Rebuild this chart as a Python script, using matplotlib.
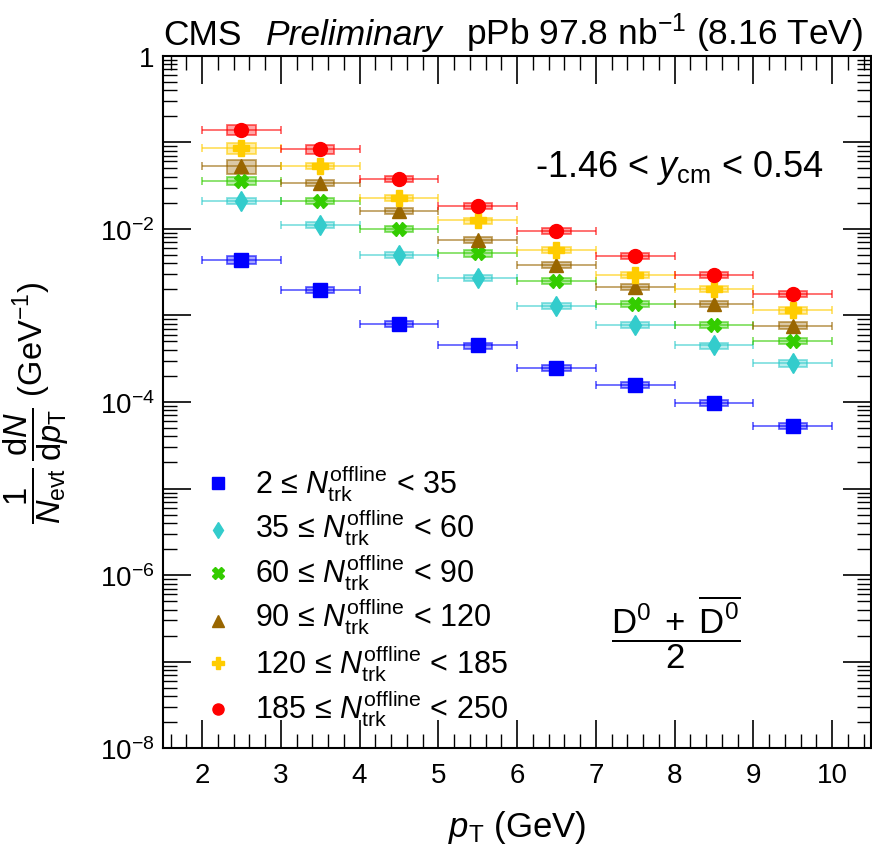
"""
plot.py
D0 pT spectra in pPb for multiplicity classes (CMS style).
"""

import matplotlib
matplotlib.use("Agg")
import matplotlib.pyplot as plt
from matplotlib.patches import Rectangle
from matplotlib.ticker import LogLocator, NullFormatter, FixedLocator, MultipleLocator

plt.rcParams["font.family"] = ["Liberation Sans", "DejaVu Sans"]
plt.rcParams["mathtext.fontset"] = "custom"
plt.rcParams["mathtext.rm"] = "Liberation Sans"
plt.rcParams["mathtext.it"] = "Liberation Sans:italic"
plt.rcParams["mathtext.bf"] = "Liberation Sans:bold"

# bin centres and half widths
pt = [2.5, 3.5, 4.5, 5.5, 6.5, 7.5, 8.5, 9.5]
pt_halfwidth = 0.5

labels = [
    r"2 ≤ $N_{\rm trk}^{\rm offline}$ < 35",
    r"35 ≤ $N_{\rm trk}^{\rm offline}$ < 60",
    r"60 ≤ $N_{\rm trk}^{\rm offline}$ < 90",
    r"90 ≤ $N_{\rm trk}^{\rm offline}$ < 120",
    r"120 ≤ $N_{\rm trk}^{\rm offline}$ < 185",
    r"185 ≤ $N_{\rm trk}^{\rm offline}$ < 250",
]

yield_2_35 = [4.4e-3, 1.97e-3, 8.0e-4, 4.5e-4, 2.5e-4, 1.58e-4, 9.8e-5, 5.3e-5]
yield_35_60 = [2.1e-2, 1.12e-2, 5.0e-3, 2.7e-3, 1.3e-3, 7.7e-4, 4.5e-4, 2.8e-4]
yield_60_90 = [3.6e-2, 2.1e-2, 1.0e-2, 5.2e-3, 2.5e-3, 1.35e-3, 7.8e-4, 5.1e-4]
yield_90_120 = [5.3e-2, 3.4e-2, 1.6e-2, 7.5e-3, 3.8e-3, 2.15e-3, 1.35e-3, 7.6e-4]
yield_120_185 = [8.6e-2, 5.3e-2, 2.3e-2, 1.25e-2, 5.7e-3, 2.95e-3, 2.0e-3, 1.15e-3]
yield_185_250 = [0.14, 8.3e-2, 3.8e-2, 1.85e-2, 9.5e-3, 4.9e-3, 2.95e-3, 1.78e-3]

# relative systematic uncertainty (box half height)
syst_2_35 = [0.11, 0.09, 0.09, 0.08, 0.08, 0.08, 0.08, 0.08]
syst_35_60 = [0.08, 0.08, 0.08, 0.08, 0.08, 0.08, 0.08, 0.09]
syst_60_90 = [0.11, 0.08, 0.08, 0.09, 0.08, 0.08, 0.08, 0.08]
syst_90_120 = [0.19, 0.08, 0.08, 0.08, 0.08, 0.08, 0.08, 0.09]
syst_120_185 = [0.15, 0.08, 0.08, 0.08, 0.08, 0.08, 0.08, 0.09]
syst_185_250 = [0.13, 0.12, 0.08, 0.08, 0.08, 0.08, 0.08, 0.08]

series = [yield_2_35, yield_35_60, yield_60_90, yield_90_120, yield_120_185, yield_185_250]
systs = [syst_2_35, syst_35_60, syst_60_90, syst_90_120, syst_120_185, syst_185_250]
colors = ["#0000FF", "#33CCCC", "#33CC00", "#996600", "#FFCC00", "#FF0000"]
markers = ["s", "d", "X", "^", "P", "o"]
msizes = [10, 10, 10, 10, 11, 10]

fig = plt.figure(figsize=(8.72, 8.45), dpi=100)
ax = fig.add_axes([0.1866, 0.1133, 0.8128, 0.8196])

for vals, sy, col, mk, ms in zip(series, systs, colors, markers, msizes):
    # systematic boxes
    for x, v, s in zip(pt, vals, sy):
        ax.add_patch(Rectangle((x - 0.18, v * (1 - s)), 0.36, v * 2 * s,
                               facecolor=col, alpha=0.35, edgecolor="none", zorder=2))
        ax.add_patch(Rectangle((x - 0.18, v * (1 - s)), 0.36, v * 2 * s,
                               facecolor="none", edgecolor=col, alpha=0.6, lw=1.3, zorder=2))
    ax.errorbar(pt, vals, xerr=pt_halfwidth, fmt="none", ecolor=col, alpha=0.6,
                elinewidth=1.3, capsize=3, capthick=1.3, zorder=3)
    ax.plot(pt, vals, marker=mk, color=col, ms=ms, linestyle="none", zorder=4)

ax.set_yscale("log")
ax.set_xlim(1.5, 10.5)
ax.set_ylim(1e-8, 1)

# ticks, ROOT style
ax.xaxis.set_major_locator(MultipleLocator(1))
ax.xaxis.set_minor_locator(MultipleLocator(0.2))
ax.set_xticks(range(2, 11))
ax.yaxis.set_minor_locator(LogLocator(base=10, subs=range(2, 10), numticks=20))
ax.yaxis.set_minor_formatter(NullFormatter())
ytick_vals = [1e-8, 1e-7, 1e-6, 1e-5, 1e-4, 1e-3, 1e-2, 1e-1, 1]
ytick_labels = [r"10$^{-8}$", "", r"10$^{-6}$", "", r"10$^{-4}$", "", r"10$^{-2}$", "", "1"]
ax.yaxis.set_major_locator(FixedLocator(ytick_vals))
ax.set_yticklabels(ytick_labels)
ax.tick_params(which="both", direction="in", top=True, right=True, labelsize=20)
ax.tick_params(which="major", length=20, width=1.2)
ax.tick_params(which="minor", length=10, width=1.0)
ax.tick_params(axis="x", pad=10)
ax.tick_params(axis="y", pad=6)
for s in ax.spines.values():
    s.set_linewidth(1.5)

ax.set_xlabel(r"$p_{\rm T}$ (GeV)", fontsize=25, labelpad=14)
ax.set_ylabel(r"$\dfrac{1}{N_{\rm evt}}\,\dfrac{{\rm d}N}{{\rm d}p_{\rm T}}$ (GeV$^{-1}$)",
              fontsize=23.5)
ax.yaxis.set_label_coords(-0.13, 0.5)

# header
fig.text(0.187, 0.947, "CMS", fontsize=25.5, ha="left", va="baseline")
fig.text(0.305, 0.947, "Preliminary", fontsize=25.5, style="italic", ha="left", va="baseline")
fig.text(0.99, 0.947, r"pPb 97.8 nb$^{-1}$ (8.16 TeV)", fontsize=25.5, ha="right", va="baseline")

ax.text(0.525, 0.826, r"-1.46 < $y_{\rm cm}$ < 0.54", transform=ax.transAxes,
        fontsize=26, ha="left", va="baseline")
ax.text(0.724, 0.169, r"$\dfrac{{\rm D}^0\;+\;\overline{{\rm D}^0}}{2}$", transform=ax.transAxes,
        fontsize=25, ha="center", va="center")

# legend
leg_mark_y = [0.383, 0.315, 0.253, 0.184, 0.123, 0.057]
leg_text_y = [0.370, 0.306, 0.241, 0.177, 0.110, 0.045]
leg_msizes = [8, 8, 8, 8, 9, 8]
for lab, col, mk, ms, ym, yt in zip(labels, colors, markers, leg_msizes, leg_mark_y, leg_text_y):
    ax.plot([0.078], [ym], marker=mk, color=col, ms=ms, transform=ax.transAxes,
            linestyle="none", clip_on=False)
    ax.text(0.130, yt, lab, transform=ax.transAxes, fontsize=22, ha="left", va="baseline")

fig.savefig("out.png", dpi=100)
